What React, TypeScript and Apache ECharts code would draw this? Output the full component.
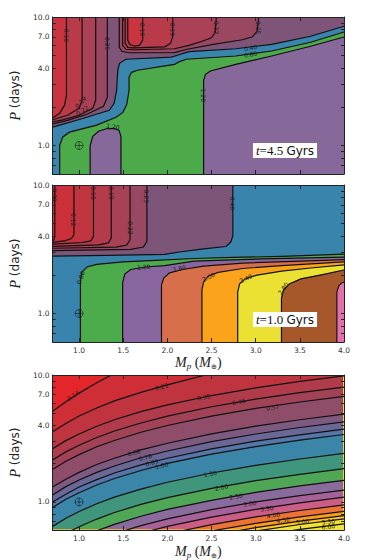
import React, { useEffect, useRef } from 'react';
import * as echarts from 'echarts';

// ---------- axes ----------
const M_MIN = 0.7;
const M_MAX = 4.0;
const P_MIN = 0.6;
const P_MAX = 10;
const massTicks = [1.0, 1.5, 2.0, 2.5, 3.0, 3.5, 4.0];
const periodLabels = [1, 4, 7, 10];
const periodTicks = [0.6, 0.7, 0.8, 0.9, 1, 2, 3, 4, 5, 6, 7, 8, 9, 10];
const earthPoint = [1.0, 1.0];
const panelAges = ['4.5', '1.0'];

// ---------- panel 1 (t = 4.5 Gyrs): contour lines, [M_p, P] ----------
const p1Line040 = [[0.7,1.39],[1.012,1.60],[1.342,1.88],[1.397,2.13],[1.425,2.69],[1.438,3.85],[1.458,4.36],[1.529,4.69],[2.044,4.88],[2.113,5.04],[2.245,5.38],[2.774,5.66],[3.181,6.13],[3.622,7.08],[4.0,8.47]];
const p1Line080 = [[0.78,0.6],[0.78,1.00],[0.813,1.16],[0.891,1.27],[1.199,1.44],[1.419,1.66],[1.496,1.81],[1.540,2.09],[1.566,2.69],[1.566,3.40],[1.595,3.71],[1.661,3.85],[2.080,4.28],[2.146,4.52],[2.212,4.69],[2.774,4.97],[3.181,5.44],[3.622,6.36],[4.0,7.64]];
const p1Line120 = [[2.41,0.6],[2.41,3.22],[2.432,3.58],[2.487,3.80],[2.774,4.28],[3.181,4.97],[3.622,5.92],[4.0,6.99]];
const p1Bump120 = [[1.125,0.6],[1.125,1.00],[1.155,1.18],[1.221,1.29],[1.309,1.35],[1.397,1.36],[1.452,1.31],[1.474,1.18],[1.474,0.6]];
const p1Left025 = [[1.32,10],[1.32,2.37],[1.276,2.02],[1.089,1.75],[0.868,1.57],[0.7,1.475]];
const p1Left022 = [[1.188,10],[1.188,2.25],[1.155,1.95],[1.001,1.72],[0.813,1.585],[0.7,1.53]];
const p1Left019 = [[1.034,10],[1.034,2.25],[1.001,1.95],[0.868,1.72],[0.7,1.585]];
const p1Left016 = [[0.857,10],[0.857,2.46],[0.835,2.06],[0.78,1.78],[0.7,1.64]];
const p1Right025 = [[1.455,10],[1.455,5.81],[1.485,5.41],[1.562,5.27],[2.080,5.28],[2.223,5.61],[2.520,6.13],[2.850,6.65],[2.961,7.01],[3.016,7.74],[3.035,10]];
const p1Right022 = [[1.493,10],[1.493,6.02],[1.529,5.61],[1.617,5.56],[2.080,5.66],[2.245,6.02],[2.410,6.53],[2.498,6.89],[2.543,7.60],[2.554,10]];
const p1Right019 = [[1.522,10],[1.522,6.24],[1.551,5.81],[1.617,5.76],[1.970,5.86],[2.036,6.24],[2.061,7.08],[2.061,10]];
const p1Right016 = [[1.551,10],[1.551,6.59],[1.573,6.13],[1.617,5.95],[1.683,6.02],[1.720,6.59],[1.720,10]];
const p1Labels: [string, number, number, number][] = [
  ['0.16', 0.857, 7.2, -90], ['0.25', 1.32, 6.21, -90], ['0.19', 1.015, 2.18, 50], ['0.22', 1.034, 1.88, 35],
  ['0.16', 1.72, 8.02, -90], ['0.19', 2.061, 8.02, -90], ['0.22', 2.554, 8.27, -90], ['0.25', 3.035, 8.27, -90],
  ['0.40', 2.942, 5.78, 10], ['0.80', 2.942, 5.13, 10], ['1.20', 2.41, 2.46, -90], ['1.20', 1.383, 1.41, -8],
];

// ---------- panel 2 (t = 1.0 Gyrs) ----------
const p2Line040 = [[2.741,10],[2.741,4.01],[2.719,3.60],[2.664,3.32],[2.41,3.18],[2.135,3.01],[1.970,2.88],[1.309,2.83],[0.7,2.80]];
const p2Line080 = [[1.015,0.6],[1.015,1.82],[1.034,2.10],[1.089,2.30],[1.199,2.41],[1.496,2.52],[1.86,2.59],[2.30,2.68],[2.741,2.73],[3.292,2.78],[4.0,2.90]];
const p2Line120 = [[1.493,0.6],[1.493,1.73],[1.518,2.03],[1.584,2.20],[1.750,2.30],[1.970,2.36],[2.30,2.56],[3.071,2.66],[4.0,2.75]];
const p2Line160 = [[1.933,0.6],[1.933,1.67],[1.959,1.89],[2.025,2.07],[2.168,2.20],[2.41,2.34],[2.851,2.47],[3.512,2.56],[4.0,2.63]];
const p2Line200 = [[2.391,0.6],[2.391,1.52],[2.41,1.76],[2.465,1.96],[2.575,2.09],[2.851,2.24],[3.292,2.36],[4.0,2.52]];
const p2Line240 = [[2.796,0.6],[2.796,1.47],[2.818,1.70],[2.885,1.87],[3.016,1.99],[3.292,2.14],[3.622,2.26],[4.0,2.39]];
const p2Line280 = [[3.292,0.6],[3.292,1.32],[3.314,1.52],[3.380,1.70],[3.512,1.86],[3.732,1.99],[4.0,2.18]];
const p2Line320 = [[3.919,0.6],[3.919,1.47],[3.941,1.64],[3.974,1.73],[4.0,1.76]];
const p2Left025 = [[1.768,10],[1.768,3.65],[1.728,3.29],[1.584,3.15],[0.7,3.08]];
const p2Left022 = [[1.577,10],[1.577,3.75],[1.540,3.41],[1.419,3.29],[0.7,3.22]];
const p2Left019 = [[1.364,10],[1.364,3.87],[1.331,3.54],[1.221,3.42],[0.7,3.33]];
const p2Left016 = [[1.163,10],[1.163,3.99],[1.133,3.67],[1.034,3.57],[0.7,3.47]];
const p2Left012 = [[0.942,10],[0.942,4.11],[0.913,3.83],[0.846,3.69],[0.7,3.58]];
const p2Left008 = [[0.725,10],[0.725,4.01],[0.714,3.73],[0.7,3.67]];
const p2Labels: [string, number, number, number][] = [
  ['0.08', 0.725, 8.36, -90], ['0.12', 0.942, 5.37, -90], ['0.16', 1.163, 8.67, -90], ['0.19', 1.364, 8.67, -90],
  ['0.22', 1.577, 4.63, -90], ['0.25', 1.768, 8.17, -90], ['0.40', 2.741, 7.2, -90], ['0.80', 1.015, 1.9, 70],
  ['1.20', 1.731, 2.31, 5], ['1.60', 2.135, 2.25, 10], ['2.00', 2.465, 1.93, 25], ['2.40', 2.887, 1.88, 25],
  ['2.80', 3.31, 1.57, 55],
];

// ---------- panel 3: contour lines sampled at fixed masses ----------
const p3Mass = [0.7, 0.85, 1.0, 1.2, 1.4, 1.7, 2.0, 2.5, 3.0, 3.5, 4.0];
const p3P014 = [5.18, 6.15, 7.2, 8.7, 10.3];
const p3P025 = [3.57, 4.15, 4.75, 5.5, 6.25, 7.3, 8.35, 10.3];
const p3P035 = [2.62, 3.04, 3.43, 3.95, 4.44, 5.14, 5.82, 6.89, 7.92, 8.90, 9.85];
const p3P046 = [2.14, 2.48, 2.80, 3.22, 3.62, 4.19, 4.74, 5.62, 6.46, 7.26, 8.03];
const p3P057 = [1.80, 2.09, 2.36, 2.72, 3.05, 3.54, 4.00, 4.74, 5.45, 6.13, 6.78];
const p3P068 = [1.31, 1.51, 1.71, 1.97, 2.21, 2.57, 2.90, 3.44, 3.95, 4.44, 4.92];
const p3P078 = [1.135, 1.32, 1.49, 1.71, 1.92, 2.23, 2.52, 2.99, 3.43, 3.86, 4.27];
const p3P089 = [1.00, 1.15, 1.31, 1.50, 1.69, 1.96, 2.21, 2.62, 3.01, 3.38, 3.75];
const p3P100 = [0.903, 1.05, 1.18, 1.36, 1.53, 1.77, 2.01, 2.38, 2.73, 3.07, 3.40];
const p3P150 = [0.642, 0.744, 0.842, 0.967, 1.09, 1.26, 1.43, 1.69, 1.94, 2.18, 2.41];
const p3P200 = [0.487, 0.564, 0.638, 0.733, 0.825, 0.956, 1.08, 1.28, 1.47, 1.65, 1.83];
const p3P250 = [0.393, 0.455, 0.515, 0.592, 0.666, 0.771, 0.873, 1.03, 1.19, 1.34, 1.48];
const p3P300 = [0.331, 0.384, 0.434, 0.498, 0.561, 0.650, 0.735, 0.871, 1.00, 1.12, 1.24];
const p3P350 = [0.289, 0.335, 0.379, 0.435, 0.490, 0.567, 0.642, 0.760, 0.873, 0.982, 1.09];
const p3P400 = [0.252, 0.292, 0.330, 0.380, 0.427, 0.495, 0.560, 0.663, 0.762, 0.856, 0.948];
const p3P450 = [0.225, 0.260, 0.294, 0.338, 0.380, 0.441, 0.499, 0.591, 0.678, 0.763, 0.844];
const p3P500 = [0.208, 0.240, 0.272, 0.312, 0.352, 0.407, 0.461, 0.546, 0.627, 0.705, 0.780];
const p3P550 = [0.195, 0.226, 0.256, 0.294, 0.331, 0.383, 0.434, 0.514, 0.590, 0.664, 0.735];
const p3P600 = [0.179, 0.207, 0.234, 0.269, 0.303, 0.351, 0.397, 0.470, 0.540, 0.607, 0.672];
const p3Lines = [p3P014, p3P025, p3P035, p3P046, p3P057, p3P068, p3P078, p3P089, p3P100, p3P150,
  p3P200, p3P250, p3P300, p3P350, p3P400, p3P450, p3P500, p3P550, p3P600];
const p3Colors = ['#cf2e37', '#c0343f', '#b13a4b', '#a24257', '#904d6a', '#7e5a80', '#6b6796', '#5675a9', '#3b86a8',
  '#40967c', '#4ea656', '#8a6c9c', '#a6609a', '#cb5d86', '#ec7236', '#fb9b1f', '#fcc42a', '#f3e234', '#eee43a'];
const p3Base = '#e3262a';
const p3Labels: [string, number, number, number][] = [
  ['0.14', 0.93, 6.9, 33], ['0.25', 1.934, 8.1, 15], ['0.35', 2.41, 6.74, 11], ['0.46', 2.807, 6.17, 9.5],
  ['0.57', 3.192, 5.57, 8.3], ['0.68', 1.621, 2.46, 16], ['0.78', 1.75, 2.26, 15], ['0.89', 1.823, 2.05, 14.4],
  ['1.00', 1.934, 1.94, 13.6], ['1.50', 2.484, 1.67, 10.6], ['2.00', 2.612, 1.31, 10], ['2.50', 2.777, 1.11, 9.5],
  ['3.00', 2.933, 0.973, 9], ['3.50', 3.126, 0.89, 8.4], ['4.00', 3.2, 0.789, 8.2], ['4.50', 3.31, 0.722, 8],
  ['5.00', 3.53, 0.701, 7.5], ['5.50', 3.823, 0.701, 7], ['6.00', 3.823, 0.641, 7],
];

type Layer = { pts: number[][]; close: string[]; fill: string };

const p1Layers: Layer[] = [
  { pts: p1Line040, close: ['BR', 'BL'], fill: '#3a85ae' },
  { pts: p1Line080, close: ['BR'], fill: '#4caa4a' },
  { pts: p1Line120, close: ['BR'], fill: '#87689b' },
  { pts: p1Bump120, close: [], fill: '#87689b' },
  { pts: p1Left025, close: ['TL'], fill: '#9a4862' },
  { pts: p1Left022, close: ['TL'], fill: '#aa4156' },
  { pts: p1Left019, close: ['TL'], fill: '#b93b4a' },
  { pts: p1Left016, close: ['TL'], fill: '#c8343f' },
  { pts: p1Right025, close: [], fill: '#9a4862' },
  { pts: p1Right022, close: [], fill: '#aa4156' },
  { pts: p1Right019, close: [], fill: '#b93b4a' },
  { pts: p1Right016, close: [], fill: '#c8343f' },
];
const p2Layers: Layer[] = [
  { pts: p2Line040, close: ['BL', 'BR', 'TR'], fill: '#3984ac' },
  { pts: p2Line080, close: ['BR'], fill: '#4cab4b' },
  { pts: p2Line120, close: ['BR'], fill: '#8a66a0' },
  { pts: p2Line160, close: ['BR'], fill: '#d66f4a' },
  { pts: p2Line200, close: ['BR'], fill: '#fba31b' },
  { pts: p2Line240, close: ['BR'], fill: '#ebe133' },
  { pts: p2Line280, close: ['BR'], fill: '#a7582b' },
  { pts: p2Line320, close: ['BR'], fill: '#e470ab' },
  { pts: p2Left025, close: ['TL'], fill: '#984862' },
  { pts: p2Left022, close: ['TL'], fill: '#a64156' },
  { pts: p2Left019, close: ['TL'], fill: '#b33b4b' },
  { pts: p2Left016, close: ['TL'], fill: '#c0353f' },
  { pts: p2Left012, close: ['TL'], fill: '#cc303b' },
  { pts: p2Left008, close: ['TL'], fill: '#d42a37' },
];
const p3Layers: Layer[] = p3Lines.map((ps, k) => ({
  pts: ps.map((p, j) => [p3Mass[j], p]),
  close: ['TR', 'BR', 'BL'],
  fill: p3Colors[k],
}));

function panelRenderer(base: string, layers: Layer[], labels: [string, number, number, number][]) {
  return (params: any, api: any) => {
    const cs = params.coordSys;
    const corner: Record<string, number[]> = {
      TL: [M_MIN, P_MAX], TR: [M_MAX, P_MAX], BL: [M_MIN, P_MIN], BR: [M_MAX, P_MIN],
    };
    const px = (p: number[]) => api.coord([p[0], Math.log10(p[1])]);
    const children: any[] = [
      { type: 'rect', shape: { x: cs.x, y: cs.y, width: cs.width, height: cs.height }, style: { fill: base } },
    ];
    for (const l of layers) {
      const pts = l.pts.concat(l.close.map((c) => corner[c])).map(px);
      children.push({ type: 'polygon', shape: { points: pts }, style: { fill: l.fill, stroke: l.fill, lineWidth: 0.6 } });
    }
    for (const l of layers) {
      children.push({ type: 'polyline', shape: { points: l.pts.map(px) }, style: { fill: 'none', stroke: '#111', lineWidth: 1.2 } });
    }
    for (const [t, m, p, rot] of labels) {
      const [x, y] = px([m, p]);
      children.push({
        type: 'text', x, y, rotation: (rot * Math.PI) / 180,
        style: { text: t, fill: '#1a1a1a', fontSize: 6, fontFamily: 'DejaVu Sans', align: 'center', verticalAlign: 'middle' },
      });
    }
    const [ex, ey] = px(earthPoint);
    const mk = { stroke: 'rgba(0,0,0,0.45)', lineWidth: 1, fill: 'none' };
    children.push({ type: 'circle', shape: { cx: ex, cy: ey, r: 4 }, style: mk });
    children.push({ type: 'line', shape: { x1: ex - 4, y1: ey, x2: ex + 4, y2: ey }, style: mk });
    children.push({ type: 'line', shape: { x1: ex, y1: ey - 4, x2: ex, y2: ey + 4 }, style: mk });
    return { type: 'group', children };
  };
}

function buildOption() {
  const tops = [17, 185, 375];
  const grid = tops.map((top) => ({ left: 45, top, width: 299, height: 157 }));
  const lineStyle = { color: '#222', width: 1 };
  const serif = 'Liberation Serif';
  const xAxis: any[] = [];
  const yAxis: any[] = [];
  tops.forEach((_, i) => {
    const showX = i > 0;
    const baseX = {
      gridIndex: i, type: 'value', min: M_MIN, max: M_MAX, z: 5,
      splitLine: { show: false },
      axisLine: { show: true, onZero: false, lineStyle },
      axisTick: { show: true, inside: true, length: 4, customValues: massTicks, lineStyle },
    };
    xAxis.push({
      ...baseX, position: 'bottom',
      axisLabel: {
        show: showX, customValues: massTicks, formatter: (v: number) => v.toFixed(1),
        fontSize: 7.5, color: '#333', margin: 4, fontFamily: 'DejaVu Sans',
      },
      name: showX ? '{i|M}{s|p} ({i|M}{e|\u2295})' : '',
      nameLocation: 'middle', nameGap: 10,
      nameTextStyle: {
        fontFamily: serif, fontSize: 14, color: '#222', lineHeight: 16,
        rich: {
          i: { fontFamily: serif, fontStyle: 'italic', fontSize: 14, lineHeight: 16, color: '#222' },
          s: { fontFamily: serif, fontStyle: 'italic', fontSize: 9, lineHeight: 9, verticalAlign: 'bottom', color: '#222' },
          e: { fontFamily: 'DejaVu Sans', fontSize: 7, lineHeight: 8, verticalAlign: 'bottom', color: '#222' },
        },
      },
    });
    xAxis.push({ ...baseX, position: 'top', axisLabel: { show: false } });
    const baseY = {
      gridIndex: i, type: 'value', min: Math.log10(P_MIN), max: Math.log10(P_MAX), z: 5,
      splitLine: { show: false },
      axisLine: { show: true, onZero: false, lineStyle },
      axisTick: { show: true, inside: true, length: 3, customValues: periodTicks.map(Math.log10), lineStyle },
    };
    yAxis.push({
      ...baseY, position: 'left',
      axisLabel: {
        customValues: periodLabels.map(Math.log10), formatter: (v: number) => Math.pow(10, v).toFixed(1),
        fontSize: 7.5, color: '#333', margin: 3, fontFamily: 'DejaVu Sans',
      },
      name: '{i|P} (days)', nameLocation: 'middle', nameRotate: 90, nameGap: 25,
      nameTextStyle: {
        fontFamily: 'DejaVu Sans', fontSize: 12, color: '#222',
        rich: { i: { fontFamily: serif, fontStyle: 'italic', fontSize: 14, color: '#222' } },
      },
    });
    yAxis.push({ ...baseY, position: 'right', axisLabel: { show: false } });
  });

  const panels = [
    panelRenderer('#7e5578', p1Layers, p1Labels),
    panelRenderer('#7d5578', p2Layers, p2Labels),
    panelRenderer(p3Base, p3Layers, p3Labels),
  ];
  const series = panels.map((renderItem, i) => ({
    type: 'custom', coordinateSystem: 'cartesian2d', xAxisIndex: 2 * i, yAxisIndex: 2 * i,
    clip: true, silent: true, z: 1, data: [[1, 0]], renderItem,
  }));

  const boxRich = {
    i: { fontFamily: serif, fontStyle: 'italic', fontSize: 13, fill: '#111' },
    n: { fontFamily: serif, fontSize: 13, fill: '#111' },
    g: { fontFamily: 'DejaVu Sans', fontSize: 12, fill: '#111' },
  };
  const boxCenters = [[285, 150.5], [285, 319.5]];
  const graphic = panelAges.map((age, k) => ({
    type: 'text', x: boxCenters[k][0], y: boxCenters[k][1], z: 100,
    style: {
      text: `{i|t}{n|=${age}} {g|Gyrs}`, rich: boxRich, align: 'center', verticalAlign: 'middle',
      backgroundColor: '#ffffff', padding: [1, 3, 1, 3],
    },
  }));

  return { animation: false, backgroundColor: '#ffffff', grid, xAxis, yAxis, series, graphic };
}

export default function App() {
  const ref = useRef<HTMLDivElement>(null);
  useEffect(() => {
    if (!ref.current) return;
    const chart = echarts.init(ref.current, undefined, { renderer: 'svg' });
    chart.setOption(buildOption() as any);
    return () => chart.dispose();
  }, []);
  return (
    <div
      ref={ref}
      style={{ position: 'absolute', left: 0, top: 0, width: 374, height: 560, background: '#fff' }}
    />
  );
}
